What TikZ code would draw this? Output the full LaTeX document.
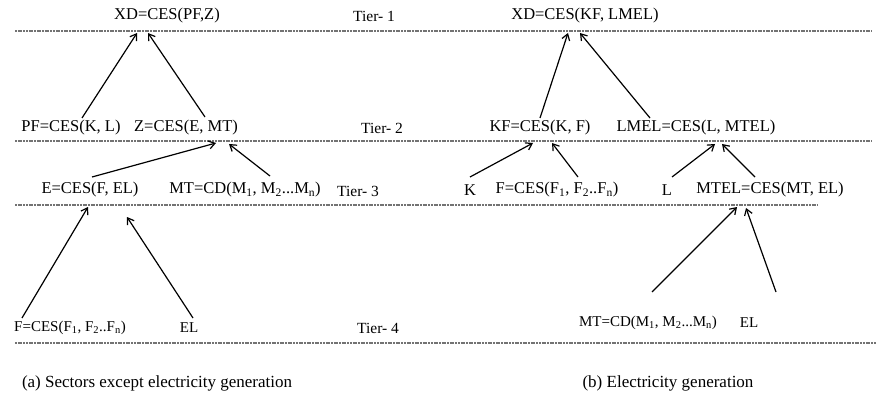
\documentclass[tikz,border=0pt]{standalone}
\usepackage{fontspec}
\setmainfont{Liberation Serif}
\usetikzlibrary{arrows.meta}
\newcommand{\sbs}[1]{\textsubscript{#1}}
\begin{document}
\begin{tikzpicture}[x=1pt,y=-1pt,
 lbl/.style={inner sep=0pt, font=\fontsize{16.5}{19}\selectfont},
 smalllbl/.style={inner sep=0pt, font=\fontsize{15}{18}\selectfont},
 tierlbl/.style={inner sep=0pt, font=\fontsize{15.5}{18}\selectfont},
 captext/.style={inner sep=0pt, font=\fontsize{17}{20}\selectfont},
 tierline/.style={draw=black!55, line width=1.1pt, dash pattern=on 2pt off 0.7pt},
 arr/.style={line width=1.2pt, -{Straight Barb[length=6pt,width=8pt,line width=1.2pt]}}]
\useasboundingbox (0,0) rectangle (880,406);
% Tier 1
\node[lbl] (xd1) at (167,16) {XD=CES(PF,Z)};
\node[tierlbl] (t1) at (374,16) {Tier- 1};
\node[lbl] (xd2) at (585,16) {XD=CES(KF, LMEL)};
\draw[tierline] (15,31) coordinate (l1a) -- (872,31) coordinate (l1b);
% Tier 2
\node[lbl] (pf) at (71,128) {PF=CES(K, L)};
\node[lbl] (z) at (186,128) {Z=CES(E, MT)};
\node[tierlbl] (t2) at (382,128) {Tier- 2};
\node[lbl] (kf) at (540,128) {KF=CES(K, F)};
\node[lbl] (lmel) at (696,128) {LMEL=CES(L, MTEL)};
\draw[tierline] (15,141) coordinate (l2a) -- (872,141) coordinate (l2b);
% Tier 3
\node[lbl] (e) at (90,190) {E=CES(F, EL)};
\node[lbl] (mt) at (245,190) {MT=CD(M\sbs{1}, M\sbs{2}...M\sbs{n})};
\node[tierlbl] (t3) at (358,191) {Tier- 3};
\node[lbl] (k) at (470,190) {K};
\node[lbl] (f2) at (557,190) {F=CES(F\sbs{1}, F\sbs{2}..F\sbs{n})};
\node[lbl] (l) at (667,190) {L};
\node[lbl] (mtel) at (770,190) {MTEL=CES(MT, EL)};
\draw[tierline] (15,205) coordinate (l3a) -- (818,205) coordinate (l3b);
% Tier 4
\node[smalllbl] (f1) at (70,328) {F=CES(F\sbs{1}, F\sbs{2}..F\sbs{n})};
\node[smalllbl] (el1) at (189,328) {EL};
\node[tierlbl] (t4) at (378,328) {Tier- 4};
\node[smalllbl] (mt2) at (648,323) {MT=CD(M\sbs{1}, M\sbs{2}...M\sbs{n})};
\node[smalllbl] (el2) at (749,323) {EL};
\draw[tierline] (15,343) coordinate (l4a) -- (876,343) coordinate (l4b);
% captions
\node[captext] (capa) at (157,383) {(a) Sectors except electricity generation};
\node[captext] (capb) at (668,383) {(b) Electricity generation};
% arrow end points
\coordinate (pfS) at (82,118);   \coordinate (xd1A) at (137,33);
\coordinate (zS) at (205,117);   \coordinate (xd1B) at (148,33);
\coordinate (eS) at (92,177);    \coordinate (zA) at (216,143);
\coordinate (mtS) at (270,176);  \coordinate (zB) at (229,144);
\coordinate (f1S) at (22,318);   \coordinate (eA) at (88,207);
\coordinate (el1S) at (193,318); \coordinate (eB) at (127,217);
\coordinate (kS) at (470,177);   \coordinate (kfA) at (533,143);
\coordinate (f2S) at (578,177);  \coordinate (kfB) at (552,143);
\coordinate (lS) at (672,177);   \coordinate (lmelA) at (715,144);
\coordinate (mtelS) at (755,177);\coordinate (lmelB) at (722,144);
\coordinate (mt2S) at (652,292); \coordinate (mtelA) at (737,207);
\coordinate (el2S) at (776,292); \coordinate (mtelB) at (746,208);
\coordinate (kfS) at (540,118);  \coordinate (xd2A) at (568,33);
\coordinate (lmelS) at (650,118);\coordinate (xd2B) at (580,33);
\draw[arr] (pfS) -- (xd1A);
\draw[arr] (zS) -- (xd1B);
\draw[arr] (eS) -- (zA);
\draw[arr] (mtS) -- (zB);
\draw[arr] (f1S) -- (eA);
\draw[arr] (el1S) -- (eB);
\draw[arr] (kS) -- (kfA);
\draw[arr] (f2S) -- (kfB);
\draw[arr] (lS) -- (lmelA);
\draw[arr] (mtelS) -- (lmelB);
\draw[arr] (mt2S) -- (mtelA);
\draw[arr] (el2S) -- (mtelB);
\draw[arr] (kfS) -- (xd2A);
\draw[arr] (lmelS) -- (xd2B);
\end{tikzpicture}
\end{document}
